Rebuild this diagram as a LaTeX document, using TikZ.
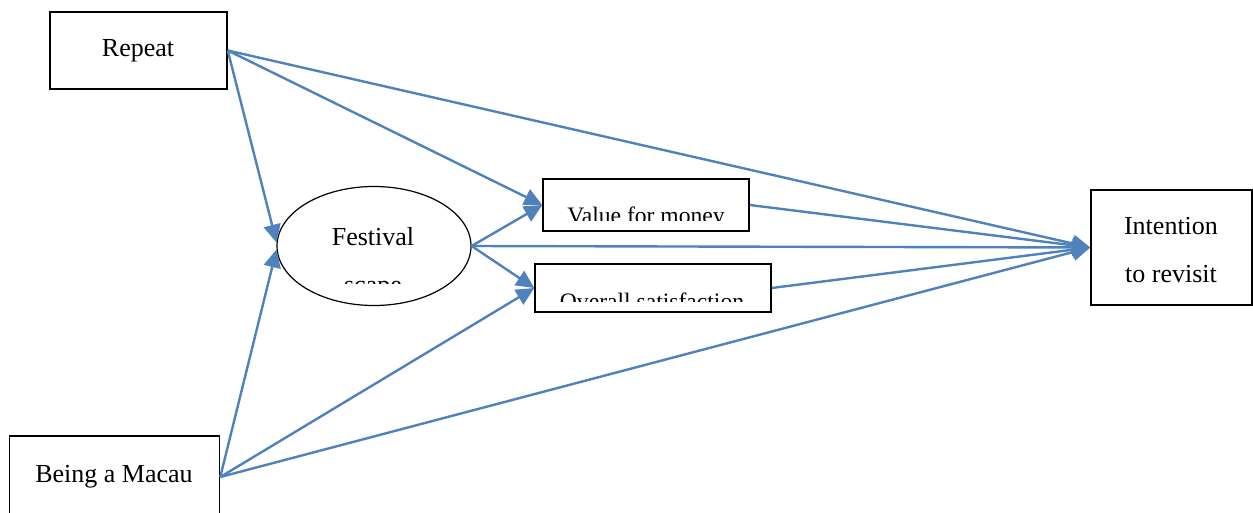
\documentclass[tikz,border=0pt]{standalone}
\usepackage{fontspec}
\setmainfont{Liberation Serif}
\usepackage{tikz}
\usetikzlibrary{positioning,shapes.geometric,arrows.meta}

\definecolor{linkblue}{HTML}{4F81BD}

\begin{document}
\begin{tikzpicture}[x=1pt, y=-1pt,
    every node/.style={inner sep=0pt},
    box/.style={draw, rectangle, line width=1.5pt},
    nodetext/.style={anchor=base, font=\fontsize{26}{31}\selectfont},
    smalltext/.style={anchor=base, font=\fontsize{23.6}{28}\selectfont},
    link/.style={draw=linkblue, line width=2.4pt, -{Triangle[length=18pt, width=17pt]}}]
    \useasboundingbox (0,0) rectangle (1253,513);

    \node[box, minimum width=177pt, minimum height=77pt] (repeat) at (138.5,50.5) {};
    \node[box, minimum width=210pt, minimum height=82pt] (macau) at (114.5,477) {};
    \node[draw, ellipse, line width=1.2pt, minimum width=194pt, minimum height=119pt] (fest) at (374,246) {};
    \node[box, minimum width=206pt, minimum height=52pt] (value) at (646,205) {};
    \node[box, minimum width=236pt, minimum height=48pt] (overall) at (653,288) {};
    \node[box, minimum width=161pt, minimum height=115pt] (intent) at (1171.5,247.5) {};

    \node[nodetext] (repeattext) at (138,57) {Repeat};
    \node[nodetext] (macautext) at (114,482) {Being a Macau};
    \node[nodetext] (festtext) at (373,245) {Festival};
    \begin{scope}
        \clip (300,260) rectangle (450,283);
        \node[nodetext] (scapetext) at (373,293) {scape};
    \end{scope}
    \begin{scope}
        \clip (545,181) rectangle (747,221);
        \node[smalltext] (valuetext) at (646,224) {Value for money};
    \end{scope}
    \begin{scope}
        \clip (537,266) rectangle (769,301);
        \node[smalltext] (overalltext) at (652,309) {Overall satisfaction};
    \end{scope}
    \node[nodetext] (intenttext1) at (1171,235) {Intention};
    \node[nodetext] (intenttext2) at (1171,282) {to revisit};

    \draw[link] (repeat.east) -- (fest.178);
    \draw[link] (repeat.east) -- (value.west);
    \draw[link] (repeat.east) -- (intent.west);
    \draw[link] (macau.east) -- (fest.182);
    \draw[link] (macau.east) -- (overall.west);
    \draw[link] (macau.east) -- (intent.west);
    \draw[link] (fest.east) -- (value.west);
    \draw[link] (fest.east) -- (overall.west);
    \draw[link] (fest.east) -- (intent.west);
    \draw[link] (value.east) -- (intent.west);
    \draw[link] (overall.east) -- (intent.west);
\end{tikzpicture}
\end{document}
